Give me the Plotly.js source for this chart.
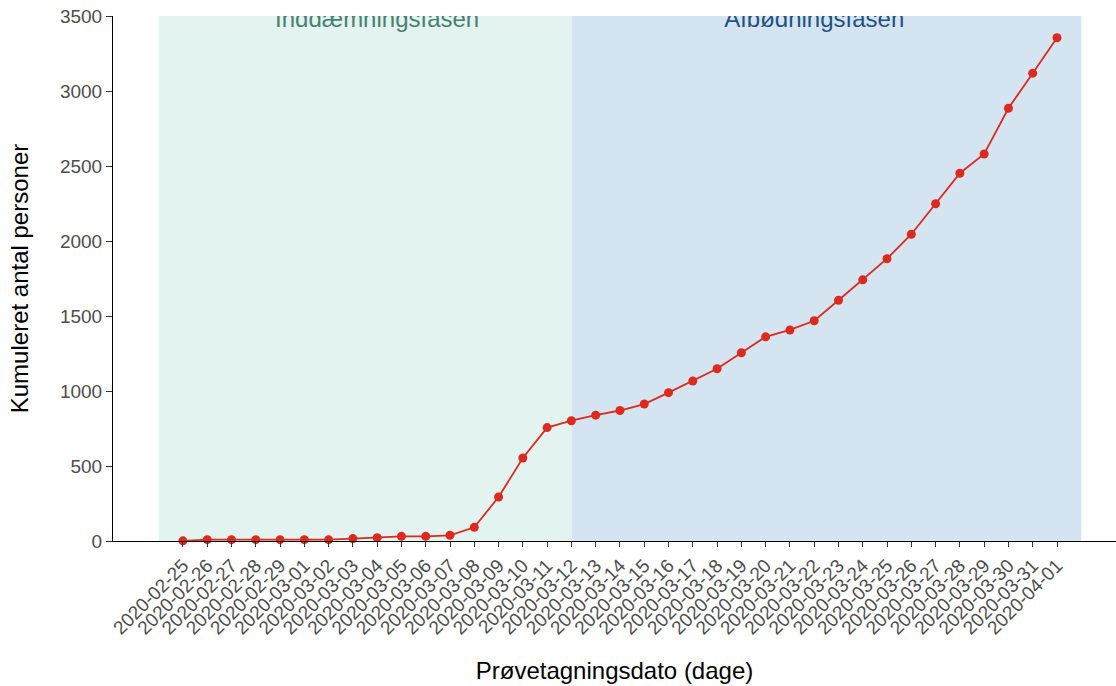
<!DOCTYPE html>
<html>
<head>
<meta charset="utf-8">
<script src="https://cdn.plot.ly/plotly-3.0.1.min.js"></script>
<style>
  html, body { margin: 0; padding: 0; background: #fff; }
  #chart { width: 1116px; height: 686px; }
</style>
</head>
<body>
<div id="chart"></div>
<script>
const dates = [
  '2020-02-25', '2020-02-26', '2020-02-27', '2020-02-28', '2020-02-29',
  '2020-03-01', '2020-03-02', '2020-03-03', '2020-03-04', '2020-03-05',
  '2020-03-06', '2020-03-07', '2020-03-08', '2020-03-09', '2020-03-10',
  '2020-03-11', '2020-03-12', '2020-03-13', '2020-03-14', '2020-03-15',
  '2020-03-16', '2020-03-17', '2020-03-18', '2020-03-19', '2020-03-20',
  '2020-03-21', '2020-03-22', '2020-03-23', '2020-03-24', '2020-03-25',
  '2020-03-26', '2020-03-27', '2020-03-28', '2020-03-29', '2020-03-30',
  '2020-03-31', '2020-04-01'
];

// kumuleret antal personer pr. prøvetagningsdato
const cumulative = [
  1, 9, 9, 9, 9, 9, 9, 16, 22, 31,
  31, 38, 91, 293, 553, 756, 802, 839, 870, 913,
  989, 1067, 1148, 1255, 1361, 1407, 1468, 1605, 1741, 1882,
  2045, 2248, 2452, 2580, 2885, 3119, 3355
];

// faser (start, slut som indeks i dates-aksen, -1 = dagen før første dato)
const phaseNames = ['Inddæmningsfasen', 'Afbødningsfasen'];
const phaseStart = [-1, 16];
const phaseEnd = [16, 37];
const phaseLabelAt = [8, 26];
const phaseLabelY = 3465;
const phaseFill = ['#e3f3ef', '#d5e4f1'];
const phaseTextColor = ['#4a7f72', '#22527e'];

const lineColor = '#dc2a1f';

const shapes = phaseNames.map((name, i) => ({
  type: 'rect',
  xref: 'x', yref: 'y',
  x0: phaseStart[i], x1: phaseEnd[i],
  y0: 0, y1: 3500,
  fillcolor: phaseFill[i],
  line: { width: 0 },
  layer: 'below'
}));

const phaseText = phaseNames.map((name, i) => ({
  x: [dates[phaseLabelAt[i]]],
  y: [phaseLabelY],
  mode: 'text',
  text: [name],
  textposition: 'middle center',
  textfont: { family: 'Liberation Sans, Arial, sans-serif', size: 24, color: phaseTextColor[i] },
  cliponaxis: true,
  hoverinfo: 'skip',
  showlegend: false
}));

const trace = {
  x: dates,
  y: cumulative,
  mode: 'lines+markers',
  line: { color: lineColor, width: 1.8 },
  marker: { color: lineColor, size: 9 },
  cliponaxis: false,
  showlegend: false
};

const tickFont = { family: 'Liberation Sans, Arial, sans-serif', size: 19, color: '#4d4d4d' };
const titleFont = { family: 'Liberation Sans, Arial, sans-serif', size: 24, color: '#000' };

const layout = {
  width: 1116,
  height: 686,
  margin: { l: 113, r: 0, t: 16, b: 145 },
  paper_bgcolor: '#fff',
  plot_bgcolor: '#fff',
  showlegend: false,
  shapes: shapes,
  xaxis: {
    type: 'category',
    categoryorder: 'array',
    categoryarray: dates,
    range: [-2.88, 38.43],
    tickmode: 'array',
    tickvals: dates,
    ticktext: dates,
    tickangle: -45,
    tickfont: tickFont,
    ticks: 'outside',
    ticklen: 5,
    tickcolor: '#333',
    showline: true,
    linecolor: '#000',
    linewidth: 1,
    showgrid: false,
    zeroline: false,
    title: { text: 'Prøvetagningsdato (dage)', font: titleFont, standoff: 24 }
  },
  yaxis: {
    range: [0, 3500],
    tickvals: [0, 500, 1000, 1500, 2000, 2500, 3000, 3500],
    tickfont: tickFont,
    ticks: 'outside',
    ticklen: 6,
    tickcolor: '#333',
    showline: true,
    linecolor: '#000',
    linewidth: 1,
    showgrid: false,
    zeroline: false,
    title: { text: 'Kumuleret antal personer', font: titleFont, standoff: 24 }
  }
};

Plotly.newPlot('chart', [...phaseText, trace], layout, { displayModeBar: false, staticPlot: true });
</script>
</body>
</html>
